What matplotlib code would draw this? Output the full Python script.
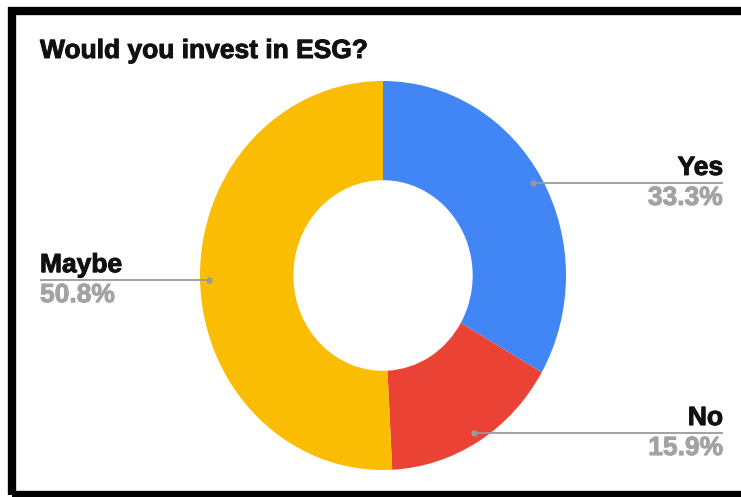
import numpy as np
import matplotlib
matplotlib.use("Agg")
import matplotlib.pyplot as plt
import matplotlib.patheffects as pe
from matplotlib.patches import Rectangle

# Survey answers
labels = ["Yes", "No", "Maybe"]
shares = [33.3, 15.9, 50.8]
colors = ["#4285F4", "#EA4335", "#FBBC04"]
title = "Would you invest in ESG?"

W, H = 741, 497
fig = plt.figure(figsize=(W / 100, H / 100), dpi=100)
fig.patch.set_facecolor("white")

# donut area in pixels (left, top, right, bottom)
pl, pt, pr, pb = 200, 81, 566, 470
ax = fig.add_axes([pl / W, 1 - pb / H, (pr - pl) / W, (pb - pt) / H])
ax.pie(shares, colors=colors, startangle=90, counterclock=False,
       wedgeprops=dict(width=0.51, edgecolor="none"))
ax.set_xlim(-1, 1)
ax.set_ylim(-1, 1)
ax.set_aspect("auto")

cx, cy = (pl + pr) / 2, (pt + pb) / 2
rx, ry = (pr - pl) / 2, (pb - pt) / 2

def px_to_x(px):
    return (px - cx) / rx

def dy_px(d):
    return d / ry

FONT = "Liberation Sans"
FS = 19
GREY_LINE = "#9a9a9a"
GREY_TXT = "#a3a3a3"

def heavy(color):
    return [pe.withStroke(linewidth=0.7, foreground=color)]

total = sum(shares)
start = 0.0
for lab, val in zip(labels, shares):
    mid = (start + val / 2) / total * 2 * np.pi  # clockwise from top
    start += val
    x0, y0 = 0.95 * np.sin(mid), 0.95 * np.cos(mid)
    if x0 >= 0:
        xe = px_to_x(723)
        ha = "right"
    else:
        xe = px_to_x(40)
        ha = "left"
    ax.plot([x0, xe], [y0, y0], color=GREY_LINE, lw=1.3, clip_on=False,
            solid_capstyle="butt")
    ax.plot([x0], [y0], "o", color=GREY_LINE, ms=3.5, clip_on=False)
    ax.text(xe, y0 + dy_px(8), lab, ha=ha, va="baseline", fontsize=FS,
            fontweight="bold", family=FONT, color="#111111", clip_on=False,
            path_effects=heavy("#111111"))
    ax.text(xe, y0 - dy_px(22), f"{val:.1f}%", ha=ha, va="baseline",
            fontsize=FS, fontweight="bold", family=FONT, color=GREY_TXT,
            clip_on=False, path_effects=heavy(GREY_TXT))

fig.text(40 / W, 1 - 58 / H, title, ha="left", va="baseline", fontsize=FS,
         fontweight="bold", family=FONT, color="#111111",
         path_effects=heavy("#111111"))

# black frame around the chart
fig.add_artist(Rectangle((12 / W, 1 - 495 / H), 760 / W, (495 - 11) / H,
                         transform=fig.transFigure, fill=False,
                         edgecolor="black", lw=6, clip_on=False))

fig.savefig("out.png", dpi=100, facecolor="white")
